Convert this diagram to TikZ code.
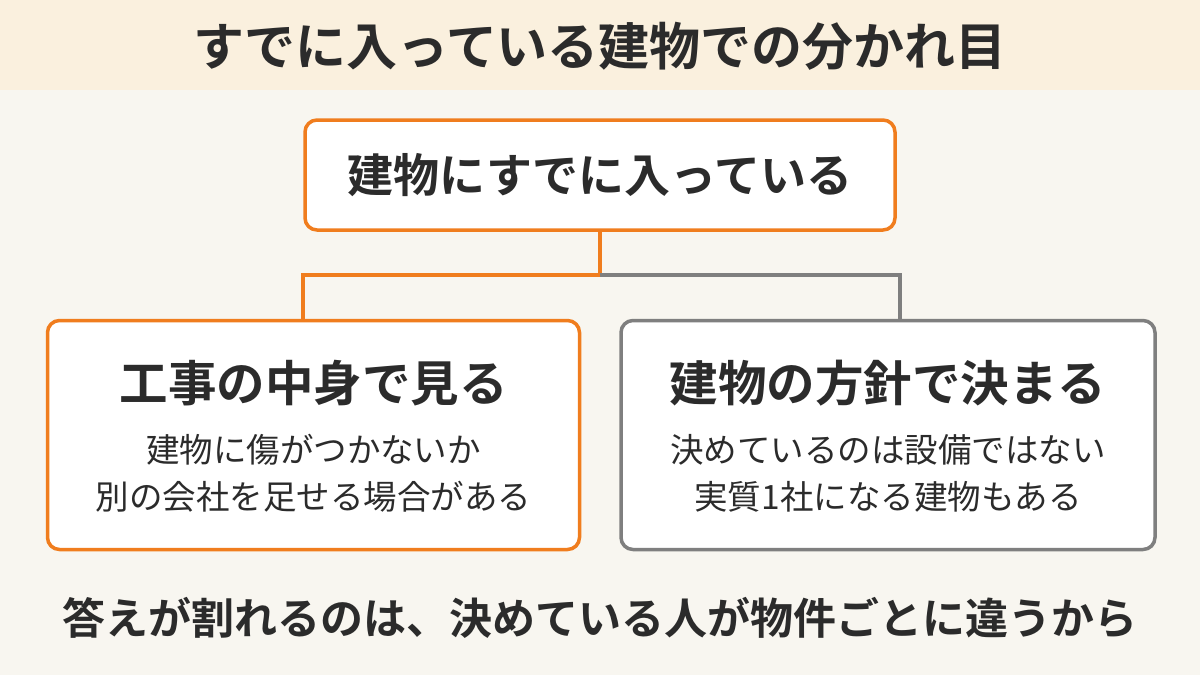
\documentclass[tikz,border=0pt]{standalone}
\usepackage{fontspec}
\setmainfont{Noto Sans CJK JP}[BoldFont={* Bold}]
\definecolor{org}{HTML}{F07D1E}
\definecolor{gry}{HTML}{7F7F7F}
\definecolor{txt}{HTML}{2B2B2B}
\definecolor{band}{HTML}{FAF0DE}
\definecolor{bg}{HTML}{F8F6F0}
\begin{document}
\begin{tikzpicture}[x=1pt,y=-1pt,
  box/.style={draw,line width=3.5pt,rounded corners=12pt,fill=white},
  ttl/.style={font=\bfseries\fontsize{48.5}{56}\selectfont,text=txt},
  sub/.style={font=\fontsize{33.5}{47}\selectfont,text=txt,align=center}]
\fill[bg] (0,0) rectangle (1200,675);
\useasboundingbox (0,0) rectangle (1200,675);
\fill[band] (0,0) rectangle (1200,90);
\node[ttl,font=\bfseries\fontsize{51}{58}\selectfont] (title) at (600,46) {すでに入っている建物での分かれ目};
\node[box,draw=org,minimum width=590pt,minimum height=110pt] (top) at (600,175) {};
\node[ttl,font=\bfseries\fontsize{46}{52}\selectfont] (toptxt) at (top) {建物にすでに入っている};
\node[box,draw=org,minimum width=532pt,minimum height=229pt] (left) at (313.5,435) {};
\node[box,draw=gry,minimum width=534pt,minimum height=229pt] (right) at (888,435) {};
\node[ttl] (lt) at (313.5,383) {工事の中身で見る};
\node[sub] (ls) at (313.5,473) {建物に傷がつかないか\\別の会社を足せる場合がある};
\node[ttl] (rt) at (888,383) {建物の方針で決まる};
\node[sub] (rs) at (888,473) {決めているのは設備ではない\\実質1社になる建物もある};
\coordinate (mid) at (600,275);
\draw[org,line width=3.5pt] (top.south) -- (mid) -- (303,275) -- (303,320.5);
\draw[gry,line width=3.5pt] (mid) -- (900,275) -- (900,320.5);
\node[ttl,font=\bfseries\fontsize{43}{50}\selectfont] (bottom) at (600,618) {答えが割れるのは、決めている人が物件ごとに違うから};
\end{tikzpicture}
\end{document}
